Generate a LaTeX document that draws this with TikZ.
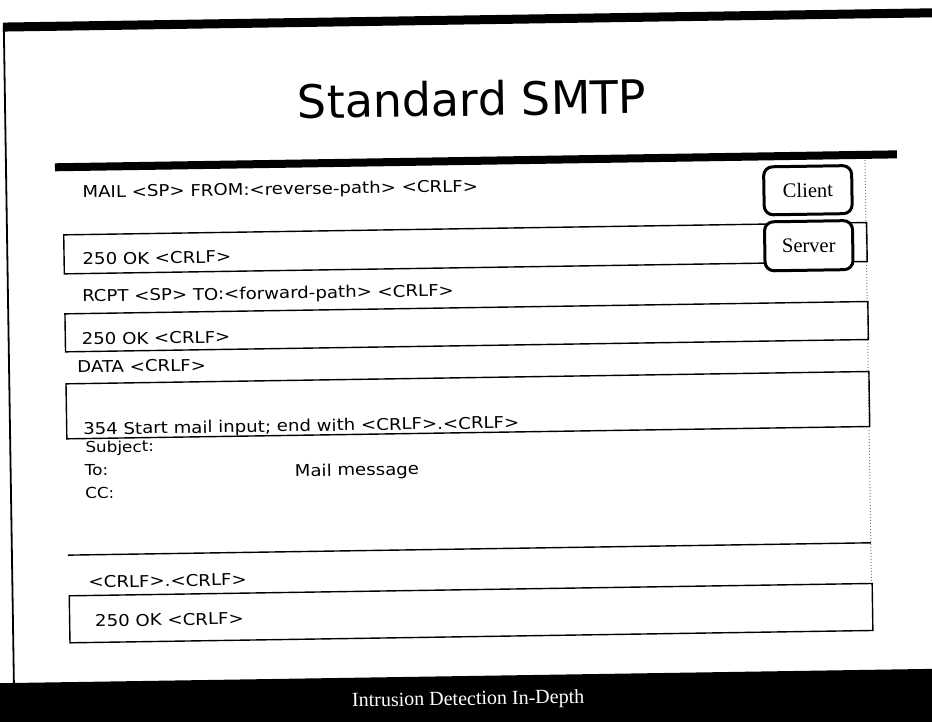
\documentclass[tikz,border=0pt]{standalone}
\usepackage{fontspec}
\newfontfamily\bodyf[FakeStretch=1.12]{DejaVu Sans}
\newfontfamily\titlef{DejaVu Sans}
\newfontfamily\serf{Liberation Serif}
\begin{document}
\begin{tikzpicture}[x=1pt,y=-1pt,
  msgbox/.style={draw=black, line width=1.4pt, minimum width=803pt, inner sep=0pt, anchor=north west},
  lbl/.style={anchor=base west, inner sep=0pt, font=\fontsize{16.2}{19}\bodyf},
  hdr/.style={anchor=base west, inner sep=0pt, font=\fontsize{15}{18}\bodyf},
  role/.style={draw=black, fill=white, line width=3pt, rounded corners=9pt, minimum width=88pt, inner sep=0pt, anchor=north west, font=\fontsize{20.5}{24}\serf}]
\useasboundingbox (0,0) rectangle (932,722);
\clip (0,0) rectangle (932,722);
\fill[white] (0,0) rectangle (932,722);
\begin{scope}[rotate around={0.88:(466,361)}, transform shape]
  % frame rules
  \draw[line width=9pt] (8,20) -- (950,20);
  \draw[line width=1.8pt] (9,20) -- (9,680);
  \node[anchor=base, inner sep=0pt, font=\fontsize{46}{52}\titlef] (title) at (476,116) {Standard SMTP};
  \draw[line width=8pt] (58,161) -- (900,161);
  \draw[gray, dotted, line width=1pt] (868,166) -- (868,589);
  % boxes
  \node[msgbox, minimum height=39pt] (b1) at (65,228) {};
  \node[msgbox, minimum height=38pt] (b2) at (65,307) {};
  \node[msgbox, minimum height=55pt] (b3) at (65,377) {};
  \draw[line width=1.4pt] (65,549) -- (868,549);
  \node[msgbox, minimum height=47pt] (b4) at (65,589) {};
  % client / server
  \node[role, minimum height=48pt] (client) at (765,170) {Client};
  \node[role, minimum height=49pt] (server) at (765,225) {Server};
  % texts
  \node[lbl] (t1) at (85,192) {MAIL <SP> FROM:<reverse-path> <CRLF>};
  \node[lbl] (t2) at (84,259) {250 OK <CRLF>};
  \node[lbl] (t3) at (83,296) {RCPT <SP> TO:<forward-path> <CRLF>};
  \node[lbl] (t4) at (82,339) {250 OK <CRLF>};
  \node[lbl] (t5) at (77,367) {DATA <CRLF>};
  \node[lbl] (t6) at (82,429) {354 Start mail input; end with <CRLF>.<CRLF>};
  \node[hdr] (t7) at (84,447) {Subject:};
  \node[hdr] (t8) at (83,470) {To:};
  \node[hdr] (t9) at (83,493) {CC:};
  \node[lbl] (t10) at (293,474) {Mail message};
  \node[lbl] (t11) at (85,582) {<CRLF>.<CRLF>};
  \node[lbl] (t12) at (91,621) {250 OK <CRLF>};
  % footer
  \fill[black] (-30,676) rectangle (970,770);
  \node[anchor=base, inner sep=0pt, text=white, font=\fontsize{20}{24}\serf] (foot) at (463,705) {Intrusion Detection In-Depth};
\end{scope}
\end{tikzpicture}
\end{document}
